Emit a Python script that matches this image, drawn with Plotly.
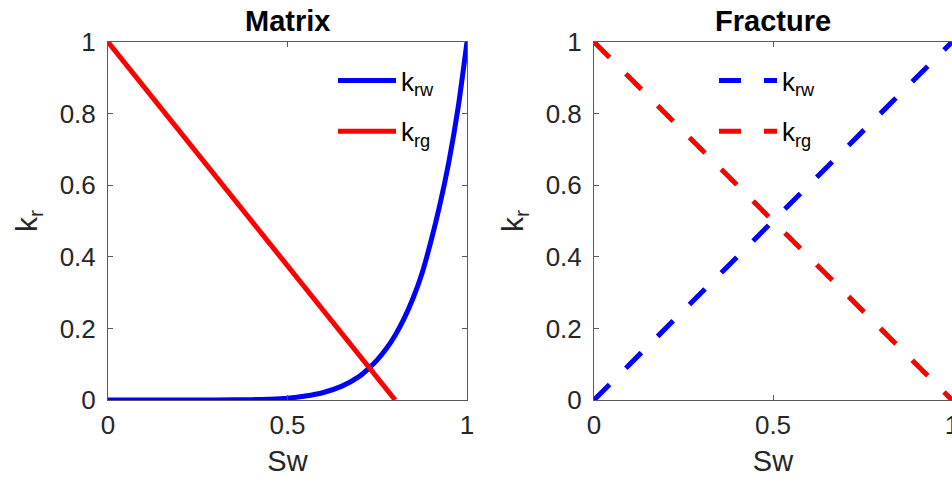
import plotly.graph_objects as go

# ---- data ----
sw_matrix_w = [0, 0.1, 0.2, 0.3, 0.4, 0.45, 0.5, 0.55, 0.6, 0.65, 0.7, 0.725, 0.75,
               0.775, 0.8, 0.825, 0.85, 0.875, 0.9, 0.925, 0.95, 0.975, 1.0]
krw_matrix = [0, 0, 0, 0.0001, 0.001, 0.0023, 0.005, 0.011, 0.021, 0.038, 0.066, 0.087,
              0.112, 0.143, 0.181, 0.228, 0.285, 0.355, 0.445, 0.548, 0.668, 0.815, 1.0]
sw_matrix_g = [0, 0.8]
krg_matrix = [1, 0]

sw_fracture = [0, 1]
krw_fracture = [0, 1]
krg_fracture = [1, 0]

x_ticks = [0, 0.5, 1]
x_tick_text = ["0", "0.5", "1"]
y_ticks = [0, 0.2, 0.4, 0.6, 0.8, 1]
y_tick_text = ["0", "0.2", "0.4", "0.6", "0.8", "1"]

titles = ["Matrix", "Fracture"]
x_label = "Sw"
y_label = "k<sub>r</sub>"
name_w = "k<sub>rw</sub>"
name_g = "k<sub>rg</sub>"

W, H = 952, 479
FONT = "Liberation Sans, Arial, Helvetica, sans-serif"
TXT = "#262626"
BLUE = "rgb(0,0,255)"
RED = "rgb(255,0,0)"
LW = 5
DASH = "22px,23px"


def px(xp):
    return xp / W


def py(yp):
    return (H - yp) / H


fig = go.Figure()

fig.add_trace(go.Scatter(x=sw_matrix_w, y=krw_matrix, mode="lines", name=name_w,
                         line=dict(color=BLUE, width=LW, shape="spline", smoothing=0.6),
                         xaxis="x", yaxis="y", legend="legend", legendgroup="a"))
fig.add_trace(go.Scatter(x=sw_matrix_g, y=krg_matrix, mode="lines", name=name_g,
                         line=dict(color=RED, width=LW), xaxis="x", yaxis="y",
                         legend="legend", legendgroup="b"))
fig.add_trace(go.Scatter(x=sw_fracture, y=krw_fracture, mode="lines", name=name_w,
                         line=dict(color=BLUE, width=LW, dash=DASH), xaxis="x2", yaxis="y2",
                         legend="legend2", legendgroup="c"))
fig.add_trace(go.Scatter(x=sw_fracture, y=krg_fracture, mode="lines", name=name_g,
                         line=dict(color=RED, width=LW, dash=DASH), xaxis="x2", yaxis="y2",
                         legend="legend2", legendgroup="d"))

y_dom = [py(400), py(42)]
x1_dom = [px(108), px(467)]
x2_dom = [px(594), 1.0]

axis_common = dict(
    range=[0, 1], showgrid=False, zeroline=False, showline=True, automargin=False,
    linecolor="#5a5a5a", linewidth=1, ticks="inside", ticklen=5,
    tickcolor="#5a5a5a", tickfont=dict(family=FONT, size=26, color=TXT),
    ticklabeloverflow="allow",
)

xa = dict(axis_common, tickvals=x_ticks, ticktext=x_tick_text, ticklabelstandoff=2,
          title=dict(text=x_label, font=dict(family=FONT, size=29, color=TXT), standoff=11))
ya = dict(axis_common, tickvals=y_ticks, ticktext=y_tick_text, ticklabelstandoff=6,
          title=dict(text=y_label, font=dict(family=FONT, size=30, color=TXT), standoff=13))

legend_common = dict(xanchor="left", yanchor="top", bgcolor="rgba(0,0,0,0)",
                     borderwidth=0, tracegroupgap=14, itemwidth=58,
                     font=dict(family=FONT, size=26, color="black"))

fig.update_layout(
    width=W, height=H,
    margin=dict(l=0, r=0, t=0, b=0, autoexpand=False),
    paper_bgcolor="white", plot_bgcolor="white",
    font=dict(family=FONT, color=TXT),
    xaxis=dict(xa, domain=x1_dom, anchor="y", mirror="ticks"),
    yaxis=dict(ya, domain=y_dom, anchor="x", mirror="ticks"),
    xaxis2=dict(xa, domain=x2_dom, anchor="y2", mirror="ticks"),
    yaxis2=dict(ya, domain=y_dom, anchor="x2", mirror=False),
    showlegend=True,
    legend=dict(legend_common, x=px(333), y=py(57)),
    legend2=dict(legend_common, x=px(714), y=py(57)),
    annotations=[
        dict(text="<b>" + titles[0] + "</b>", x=sum(x1_dom) / 2, y=py(21.5),
             xanchor="center", yanchor="middle",
             xref="paper", yref="paper", showarrow=False,
             font=dict(family=FONT, size=29, color="black")),
        dict(text="<b>" + titles[1] + "</b>", x=px(773), y=py(21.5),
             xanchor="center", yanchor="middle",
             xref="paper", yref="paper", showarrow=False,
             font=dict(family=FONT, size=29, color="black")),
    ],
)

fig.write_html("out.html", config={"displayModeBar": False},
               post_script="document.body.style.margin='0px';")
